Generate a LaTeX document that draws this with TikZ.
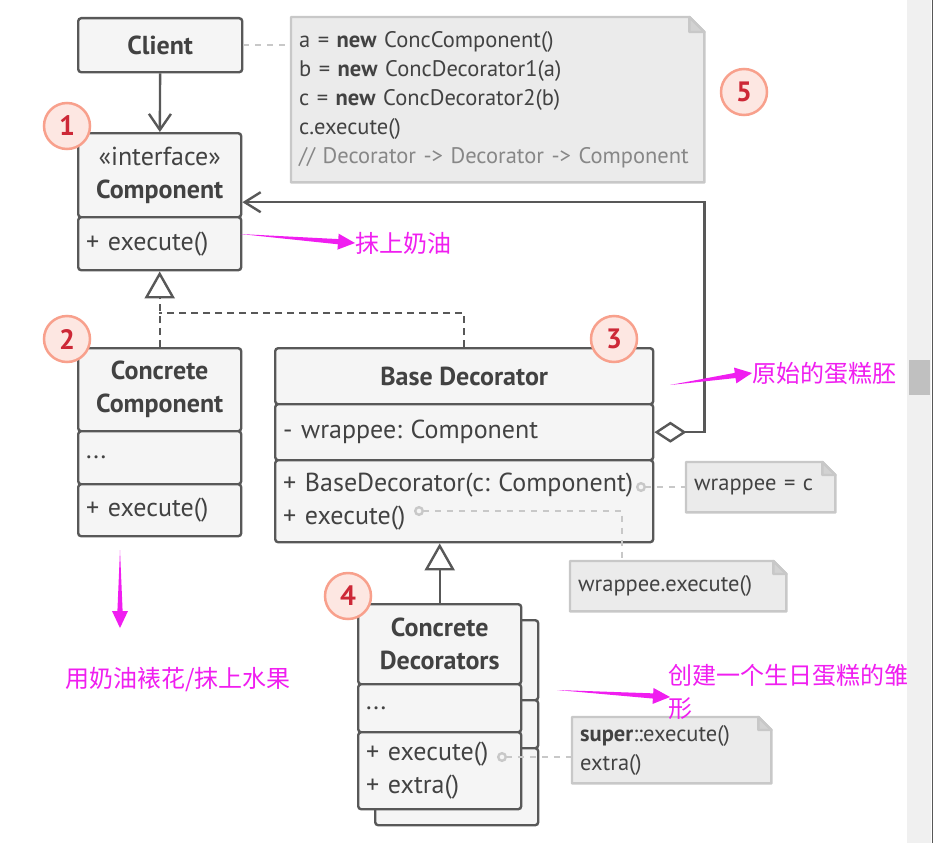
\documentclass[tikz,border=0pt]{standalone}
\usepackage{fontspec}
\setmainfont{PT Sans}
\newfontfamily\cjk{Noto Sans CJK SC}
\usetikzlibrary{arrows.meta,calc,backgrounds}
\frenchspacing
\definecolor{umlline}{RGB}{88,88,88}
\definecolor{umlfill}{RGB}{245,245,245}
\definecolor{umltext}{RGB}{66,66,66}
\definecolor{notefill}{RGB}{235,235,235}
\definecolor{noteline}{RGB}{200,200,200}
\definecolor{notegray}{RGB}{135,135,135}
\definecolor{hint}{RGB}{240,30,240}
\definecolor{badgefill}{RGB}{253,231,226}
\definecolor{badgeline}{RGB}{248,160,140}
\definecolor{badgetext}{RGB}{205,40,55}
\definecolor{scrollbg}{RGB}{240,240,240}
\definecolor{scrollthumb}{RGB}{192,192,192}

\tikzset{
  part/.style={draw=umlline, fill=umlfill, line width=2.4pt, rounded corners=3pt,
    anchor=north west, inner sep=0pt, text=umltext},
  title/.style={part, align=center, font=\fontsize{26}{33}\selectfont\bfseries},
  members/.style={part, inner xsep=8pt, text width=#1, align=left,
    font=\fontsize{26}{33}\selectfont},
  note/.style={anchor=north west, inner xsep=8pt, inner ysep=0pt, align=left,
    text=umltext, font=\fontsize{22.5}{29}\selectfont},
  notepath/.style={draw=noteline, fill=notefill, line width=2.4pt, line join=round},
  badge/.style={circle, draw=badgeline, fill=badgefill, line width=2.5pt,
    minimum size=46pt, inner sep=0pt, text=badgetext,
    font=\fontsize{28}{28}\selectfont\bfseries},
  hinttext/.style={anchor=west, inner sep=0pt, text=hint, align=left,
    font=\cjk\fontsize{24}{33}\selectfont},
  assoc/.style={draw=umlline, line width=2.4pt, -{Straight Barb[length=16pt,width=22pt]}},
  aggr/.style={draw=umlline, line width=2.4pt,
    {Diamond[open,length=32pt,width=21pt]}-{Straight Barb[length=16pt,width=20pt]}},
  dashline/.style={draw=umlline, line width=2.4pt, dash pattern=on 7pt off 5pt},
  realize/.style={dashline, -{Triangle[open,length=27pt,width=30pt]}},
  inherit/.style={draw=umlline, line width=2.4pt, -{Triangle[open,length=27pt,width=30pt]}},
  notelink/.style={draw=noteline, line width=2.4pt, dash pattern=on 6pt off 6pt,
    {Circle[open,length=10pt,sep=0pt]}-},
  notelink plain/.style={draw=noteline, line width=2.4pt, dash pattern=on 6pt off 6pt}
}

\newcommand{\foldnote}[2]{%
  \filldraw[notepath] (#1.north west) -- ([xshift=-#2]#1.north east)
    -- ([yshift=-#2]#1.north east) -- (#1.south east) -- (#1.south west) -- cycle;
  \filldraw[notepath, fill=noteline!70!notefill] ([xshift=-#2]#1.north east)
    -- ([xshift=-#2,yshift=-#2]#1.north east) -- ([yshift=-#2]#1.north east) -- cycle;
}
\newcommand{\wedgearrow}[2]{%
  \coordinate (wb) at ($(#2)!17pt!(#1)$);
  \fill[hint] (#1) -- ($(wb)!2.6pt!90:(#2)$) -- ($(wb)!8pt!90:(#2)$) -- (#2)
    -- ($(wb)!8pt!-90:(#2)$) -- ($(wb)!2.6pt!-90:(#2)$) -- cycle;
}

\begin{document}
\begin{tikzpicture}[x=1pt, y=-1pt]
    \useasboundingbox (0,0) rectangle (933,843);
    \begin{scope}[on background layer]
        \fill[white] (0,0) rectangle (933,843);
    \end{scope}
    \fill[scrollbg] (907,0) rectangle (931,843);
    \fill[scrollthumb] (909,360) rectangle (930,395);
    \fill[umlline] (931.5,0) rectangle (933,843);

    \node[title, minimum width=164pt, minimum height=54pt] (client) at (77,17) {Client};

    \node[title, minimum width=163pt, minimum height=84pt] (comphead) at (77,132) {{\mdseries «interface»}\\Component};
    \node[members=147pt, minimum height=53pt] (compmeth) at (77,216) {+ execute()};

    \node[title, minimum width=163pt, minimum height=83pt] (cchead) at (77,347) {Concrete\\Component};
    \node[members=147pt, minimum height=53pt] (ccattr) at (77,430) {...};
    \node[members=147pt, minimum height=52pt] (ccmeth) at (77,483) {+ execute()};

    \node[title, minimum width=378pt, minimum height=56pt] (bdhead) at (274,347) {Base Decorator};
    \node[members=362pt, minimum height=56pt] (bdattr) at (274,403) {- wrappee: Component};
    \node[members=362pt, minimum height=82pt] (bdmeth) at (274,459) {+ BaseDecorator(c: Component)\\+ execute()};

    \node[part, minimum width=163pt, minimum height=80pt] (cdbackhead) at (374,619) {};
    \node[part, minimum width=163pt, minimum height=48pt] (cdbackattr) at (374,699) {};
    \node[part, minimum width=163pt, minimum height=77pt] (cdbackmeth) at (374,747) {};
    \node[title, minimum width=163pt, minimum height=80pt] (cdhead) at (357,603) {Concrete\\Decorators};
    \node[members=147pt, minimum height=48pt] (cdattr) at (357,683) {...};
    \node[members=147pt, minimum height=77pt] (cdmeth) at (357,731) {+ execute()\\+ extra()};

    \node[note, text width=397pt, minimum height=165pt] (code) at (291,17) {a = \textbf{new} ConcComponent()\\b = \textbf{new} ConcDecorator1(a)\\c = \textbf{new} ConcDecorator2(b)\\c.execute()\\{\color{notegray}// Decorator -> Decorator -> Component}};
    \node[note, text width=133pt, minimum height=50pt] (wrapnote) at (686,462) {wrappee = c};
    \node[note, text width=200pt, minimum height=50pt] (execnote) at (570,561) {wrappee.execute()};
    \node[note, text width=183pt, minimum height=66pt] (supernote) at (572,717) {\textbf{super}::execute()\\extra()};
    \begin{scope}[on background layer]
        \foldnote{code}{15pt}
        \foldnote{wrapnote}{13pt}
        \foldnote{execnote}{13pt}
        \foldnote{supernote}{13pt}
    \end{scope}

    \draw[assoc] (client) -- (comphead);
    \draw[notelink plain] (client.east) -- (client.east -| code.west);
    \draw[aggr] (bdattr.east) -- ++(50,0) |- ([yshift=-27pt]comphead.east);
    \coordinate (split) at (158.5,313);
    \draw[realize] (cchead.north) -- (compmeth.south);
    \draw[dashline] (bdhead.north) |- (split);
    \draw[inherit] (cdhead.north) -- (cdhead.north |- bdmeth.south);

    \coordinate (dot1) at (636,487);
    \coordinate (dot2) at (414,511);
    \coordinate (dot3) at (497,757);
    \draw[notelink] (dot1) -- (dot1 -| wrapnote.west);
    \draw[notelink] (dot2) -| ([xshift=-56pt]execnote.north);
    \draw[notelink] (dot3) -- (dot3 -| supernote.west);

    \node[badge] (b1) at (67,126) {1};
    \node[badge] (b2) at (67,339) {2};
    \node[badge] (b3) at (614,339) {3};
    \node[badge] (b4) at (348,596) {4};
    \node[badge] (b5) at (744,92) {5};

    \node[hinttext] (t1) at (355,243) {抹上奶油};
    \node[hinttext] (t2) at (65,680) {用奶油裱花/抹上水果};
    \node[hinttext] (t3) at (752,373) {原始的蛋糕胚};
    \node[hinttext, anchor=north west] (t4) at (668,664) {创建一个生日蛋糕的雏\\形};

    \coordinate (h1) at (240,234);
    \coordinate (h2) at (120,550);
    \coordinate (h2tip) at (120,628);
    \coordinate (h3) at (670,385);
    \coordinate (h4) at (557,690);
    \coordinate (h4tip) at (670,697);
    \wedgearrow{h1}{t1.west}
    \wedgearrow{h2}{h2tip}
    \wedgearrow{h3}{t3.west}
    \wedgearrow{h4}{h4tip}
\end{tikzpicture}
\end{document}
